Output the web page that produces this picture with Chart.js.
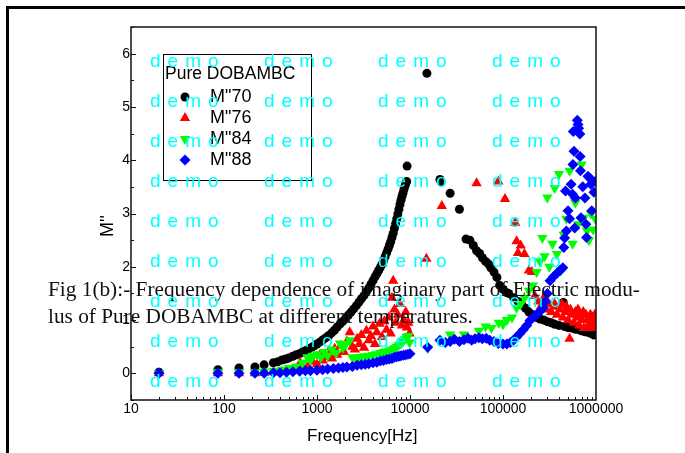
<!DOCTYPE html>
<html>
<head>
<meta charset="utf-8">
<script src="https://cdn.jsdelivr.net/npm/chart.js@4.4.1/dist/chart.umd.min.js"></script>
<style>
  html, body { margin: 0; padding: 0; background: #fff; }
  #wrap { position: relative; width: 685px; height: 453px; overflow: hidden; }
  #frame { position: absolute; left: 6px; top: 6px; width: 720px; height: 480px;
           border-top: 3px solid #000; border-left: 3px solid #000; }
  #c { position: absolute; left: 0; top: 0; }
  .ttl { position: absolute; font-family: "Liberation Sans", Arial, sans-serif;
         color: #000; white-space: nowrap; }
  .cap { position: absolute; left: 48px; font-family: "Liberation Serif", "Times New Roman", serif;
         font-size: 21.3px; color: #111; white-space: nowrap; }
  .wm { position: absolute; font-family: "Liberation Sans", Arial, sans-serif; font-size: 19px;
        letter-spacing: 7px; color: #00ffff; white-space: nowrap; line-height: 20px; }
</style>
</head>
<body>
<div id="wrap">
  <div id="frame"></div>
  <canvas id="c" width="685" height="453"></canvas>
  <div class="ttl" style="font-size:18px; left:97px; top:237px; transform: rotate(-90deg); transform-origin: 0 0;">M''</div>
  <div class="ttl" style="font-size:17px; left:307px; top:426px;">Frequency[Hz]</div>
  <div class="cap" style="top:277px;">Fig 1(b):- Frequency dependence of imaginary part of Electric modu-</div>
  <div class="cap" style="top:304px;">lus of Pure DOBAMBC at different temperatures.</div>
  <div id="marks"></div>
</div>
<script>
// tick labels
const xTickValues = [10, 100, 1000, 10000, 100000, 1000000];
const yTickValues = [0, 1, 2, 3, 4, 5, 6];
const yMin = -0.5, yMax = 6.5;

const seriesLabels = ['M"70', 'M"76', 'M"84', 'M"88'];

// [frequency Hz, M'']
const m70 = [
  [20,0.02],[86,0.07],[145,0.1],[215,0.12],[270,0.16],[340,0.2],[380,0.22],[420,0.25],[460,0.27],[500,0.29],
  [550,0.32],[600,0.35],[650,0.37],[700,0.4],[760,0.43],[820,0.46],[880,0.49],[940,0.52],[1000,0.55],[1080,0.59],
  [1160,0.63],[1250,0.67],[1340,0.71],[1440,0.76],[1540,0.81],[1650,0.87],[1780,0.93],[1900,0.98],[2030,1.03],[2170,1.09],
  [2320,1.15],[2480,1.21],[2650,1.27],[2830,1.34],[3000,1.4],[3200,1.46],[3400,1.53],[3600,1.6],[3800,1.67],[4000,1.74],
  [4200,1.81],[4400,1.87],[4600,1.93],[4800,1.99],[5000,2.05],[5200,2.12],[5400,2.19],[5600,2.26],[5800,2.33],[6000,2.4],
  [6200,2.47],[6400,2.55],[6600,2.63],[6800,2.72],[7000,2.81],[7200,2.9],[7400,2.99],[7600,3.08],[7800,3.17],[8000,3.25],
  [8200,3.32],[8400,3.38],[8600,3.45],[8800,3.51],[9000,3.56],[9200,3.6],[9300,3.89],
  [15200,5.63],[21000,3.64],[21500,3.6],[27000,3.38],[34000,3.08],[40000,2.52],[44000,2.5],[48000,2.4],[52000,2.3],
  [56000,2.25],[60000,2.17],[65000,2.1],[70000,2.05],[74000,1.98],[80000,1.9],[86000,1.8],[92000,1.65],[100000,1.58],
  [108000,1.52],[115000,1.5],[130000,1.42],[145000,1.35],[160000,1.28],[175000,1.22],[190000,1.15],[210000,1.1],
  [230000,1.05],[250000,1.02],[275000,1.0],[300000,0.97],[330000,0.95],[360000,0.92],[400000,0.9],[445000,1.33],
  [460000,0.88],[500000,0.86],[550000,0.85],[600000,0.83],[650000,0.82],[700000,0.8],[760000,0.78],[820000,0.77],
  [880000,0.75],[950000,0.72]
];

const m76 = [
  [20,0],[86,0],[145,0],[215,0],[270,0.01],[340,0.02],[420,0.03],[500,0.05],[600,0.08],[660,0.2],
  [700,0.1],[800,0.14],[900,0.22],[1000,0.17],[1070,0.34],[1150,0.24],[1250,0.3],[1350,0.42],[1450,0.28],[1550,0.46],
  [1650,0.35],[1800,0.52],[1950,0.4],[2100,0.6],[2250,0.77],[2400,0.5],[2550,0.45],[2700,0.65],[2850,0.55],[3000,0.72],
  [3200,0.48],[3400,0.8],[3600,0.62],[3800,0.7],[4000,0.88],[4200,0.55],[4400,0.77],[4700,0.93],[5000,0.68],[5300,0.98],
  [5600,0.82],[5900,1.05],[6200,0.75],[6400,1.42],[6600,1.74],[6800,1.2],[7000,0.95],[7400,1.1],[7800,1.3],[8200,0.9],
  [8600,1.0],[9000,1.15],[9300,0.86],[9600,0.95],[9900,0.75],
  [15000,2.15],[22000,3.14],[52000,3.57],[89000,3.6],[105000,3.27],[135000,2.82],[140000,2.48],[145000,2.26],
  [155000,2.4],[170000,2.24],[190000,1.93],[205000,1.9],[220000,1.45],[240000,1.35],[255000,1.25],[270000,1.4],
  [290000,1.2],[300000,1.35],[310000,1.3],[330000,1.15],[350000,1.25],[360000,1.3],[380000,1.1],[410000,1.2],
  [430000,1.3],[440000,1.05],[470000,1.15],[480000,1.25],[500000,1.0],[520000,0.65],[530000,1.2],[550000,1.1],
  [580000,0.95],[600000,1.15],[620000,1.05],[640000,1.2],[660000,0.9],[690000,1.1],[700000,1.0],[730000,1.15],
  [740000,0.85],[780000,1.1],[800000,1.0],[820000,0.9],[860000,1.0],[870000,1.1],[900000,0.85],[920000,1.05],
  [950000,0.95],[970000,1.1],[1000000,0.9]
];

const m84 = [
  [20,0],[86,0.02],[145,0.02],[215,0.02],[270,0.03],[340,0.05],[420,0.07],[500,0.1],[600,0.13],[700,0.2],
  [790,0.3],[850,0.25],[900,0.33],[1000,0.36],[1100,0.3],[1200,0.4],[1300,0.33],[1450,0.45],[1600,0.38],[1770,0.56],
  [1900,0.48],[2050,0.55],[2250,0.62],[2400,0.3],[2600,0.28],[2800,0.3],[3000,0.31],[3300,0.32],[3600,0.33],[4000,0.35],
  [4400,0.36],[4800,0.38],[5200,0.4],[5600,0.41],[6000,0.43],[6400,0.45],[6800,0.47],[7200,0.5],[7600,0.53],[8000,0.56],
  [8400,0.6],[8800,0.64],[9200,0.68],[9600,0.7],[9900,0.58],
  [15500,0.47],[27000,0.73],[38000,0.73],[55000,0.8],[65000,0.88],[75000,0.85],[90000,0.95],[100000,0.92],
  [110000,1.0],[125000,1.05],[140000,1.23],[155000,1.3],[170000,1.42],[190000,1.55],[210000,1.65],[230000,1.9],
  [250000,2.1],[265000,2.54],[280000,2.2],[300000,3.3],[315000,2.0],[340000,2.43],[360000,3.48],[380000,2.24],
  [400000,3.74],[420000,1.93],[450000,2.6],[480000,2.9],[520000,3.8],[560000,2.43],[600000,3.2],[640000,2.8],
  [700000,3.92],[740000,2.92],[800000,2.67],[840000,2.5],[880000,3.0],[930000,2.7],[980000,2.9]
];

const m88 = [
  [20,0],[86,0],[145,0],[215,0],[270,0],[340,0.01],[400,0.01],[470,0.02],[550,0.03],[650,0.04],
  [750,0.05],[850,0.05],[1000,0.06],[1150,0.07],[1300,0.08],[1500,0.09],[1700,0.1],[1900,0.11],[2100,0.12],[2400,0.13],
  [2700,0.15],[3000,0.16],[3300,0.17],[3600,0.18],[4000,0.2],[4400,0.21],[4800,0.23],[5200,0.24],[5600,0.26],[6000,0.27],
  [6400,0.28],[6800,0.3],[7200,0.31],[7600,0.32],[8000,0.33],[8500,0.34],[9000,0.35],[9500,0.36],[10000,0.37],
  [15500,0.49],[21000,0.62],[24000,0.58],[27000,0.6],[30000,0.64],[34000,0.6],[38000,0.63],[42000,0.66],[46000,0.62],
  [50000,0.65],[55000,0.67],[60000,0.65],[66000,0.66],[72000,0.62],[80000,0.6],[89000,0.56],[100000,0.55],
  [110000,0.55],[120000,0.58],[130000,0.62],[140000,0.68],[152000,0.75],[165000,0.82],[180000,0.9],[195000,0.99],
  [215000,1.06],[235000,1.12],[255000,1.18],[270000,1.23],[285000,1.35],[300000,1.5],[320000,1.74],[350000,1.82],
  [380000,1.88],[410000,1.93],[440000,1.98],[450000,2.36],[460000,2.54],[470000,3.42],[480000,2.67],[500000,3.05],
  [520000,2.9],[540000,3.55],[560000,3.36],[565000,3.92],[570000,4.54],[580000,4.17],[590000,2.73],[600000,3.29],
  [630000,4.75],[640000,4.67],[650000,4.6],[670000,4.49],[675000,4.07],[680000,3.8],[690000,2.92],[720000,3.5],
  [760000,3.29],[780000,2.8],[790000,2.55],[820000,3.7],[860000,3.66],[880000,3.55],[900000,3.05],[950000,3.4],
  [980000,3.6]
];

const toXY = arr => arr.map(p => ({ x: p[0], y: p[1] }));

const axisFrame = {
  id: 'axisFrame',
  afterDatasetsDraw(chart) {
    const { ctx, chartArea: a, scales: { x, y } } = chart;
    ctx.save();
    ctx.strokeStyle = '#111';
    ctx.lineWidth = 1.5;
    ctx.strokeRect(a.left, a.top, a.right - a.left, a.bottom - a.top);
    ctx.lineWidth = 1;
    ctx.beginPath();
    for (let v = yMin; v <= yMax; v += 0.5) {
      const py = Math.round(y.getPixelForValue(v)) + 0.5;
      ctx.moveTo(a.left, py);
      ctx.lineTo(a.left + (Number.isInteger(v) ? 5 : 3), py);
    }
    for (let d = xTickValues[0]; d < xTickValues[xTickValues.length - 1]; d *= 10) {
      for (let k = 1; k <= 9; k++) {
        const px = Math.round(x.getPixelForValue(d * k)) + 0.5;
        ctx.moveTo(px, a.bottom);
        ctx.lineTo(px, a.bottom - (k === 1 ? 5 : 3));
      }
    }
    ctx.stroke();
    ctx.restore();
  }
};

const legendBox = {
  id: 'legendBox',
  afterDatasetsDraw(chart) {
    const ctx = chart.ctx;
    ctx.save();
    ctx.strokeStyle = '#000';
    ctx.lineWidth = 1;
    ctx.strokeRect(163.5, 54.5, 148, 126);
    ctx.fillStyle = '#000';
    ctx.textBaseline = 'middle';
    ctx.font = '17.5px "Liberation Sans", Arial';
    ctx.fillText('Pure DOBAMBC', 165, 74);
    ctx.font = '18px "Liberation Sans", Arial';
    chart.data.datasets.forEach((ds, i) => {
      const yy = 97 + i * 21;
      ctx.fillStyle = ds.backgroundColor;
      Chart.helpers.drawPoint(ctx, {
        pointStyle: ds.pointStyle, radius: ds.pointRadius, rotation: ds.pointRotation || 0, borderWidth: 0
      }, 185, yy);
      ctx.fillStyle = '#000';
      ctx.fillText(ds.label, 210, yy);
    });
    ctx.restore();
  }
};

const tickFont = { family: '"Liberation Sans", Arial', size: 14 };

new Chart(document.getElementById('c'), {
  type: 'scatter',
  data: {
    datasets: [
      { label: seriesLabels[0], data: toXY(m70), pointStyle: 'circle', pointRadius: 4.5,
        backgroundColor: '#000000', borderColor: '#000000', pointBorderWidth: 0, order: 3 },
      { label: seriesLabels[1], data: toXY(m76), pointStyle: 'triangle', pointRadius: 6,
        backgroundColor: '#ff0000', borderColor: '#ff0000', pointBorderWidth: 0, order: 2 },
      { label: seriesLabels[2], data: toXY(m84), pointStyle: 'triangle', pointRotation: 180, pointRadius: 6,
        backgroundColor: '#00ff00', borderColor: '#00ff00', pointBorderWidth: 0, order: 1 },
      { label: seriesLabels[3], data: toXY(m88), pointStyle: 'rectRot', pointRadius: 5.5,
        backgroundColor: '#0000ff', borderColor: '#0000ff', pointBorderWidth: 0, order: 0 }
    ]
  },
  options: {
    responsive: false,
    animation: false,
    devicePixelRatio: 1,
    layout: { padding: { left: 100, top: 27, right: 89, bottom: 0 } },
    plugins: { legend: { display: false }, tooltip: { enabled: false } },
    scales: {
      x: {
        type: 'logarithmic', min: 10, max: 1000000,
        grid: { display: false, drawTicks: false }, border: { display: false },
        afterBuildTicks: s => { s.ticks = xTickValues.map(v => ({ value: v })); },
        afterFit: s => { s.height = 53; },
        ticks: { callback: v => String(v), font: tickFont, color: '#000', padding: 1,
                 maxRotation: 0, autoSkip: false }
      },
      y: {
        type: 'linear', min: yMin, max: yMax,
        grid: { display: false, drawTicks: false }, border: { display: false },
        afterBuildTicks: s => { s.ticks = yTickValues.map(v => ({ value: v })); },
        afterFit: s => { s.width = 31; },
        ticks: { callback: v => String(v), font: tickFont, color: '#000', padding: 1 }
      }
    }
  },
  plugins: [axisFrame, legendBox]
});

// watermark
const marks = document.getElementById('marks');
for (let r = 0; r < 9; r++) {
  for (let c = 0; c < 4; c++) {
    const d = document.createElement('div');
    d.className = 'wm';
    d.textContent = 'demo';
    d.style.left = (150 + c * 114) + 'px';
    d.style.top = (51 + r * 40) + 'px';
    marks.appendChild(d);
  }
}
</script>
</body>
</html>
